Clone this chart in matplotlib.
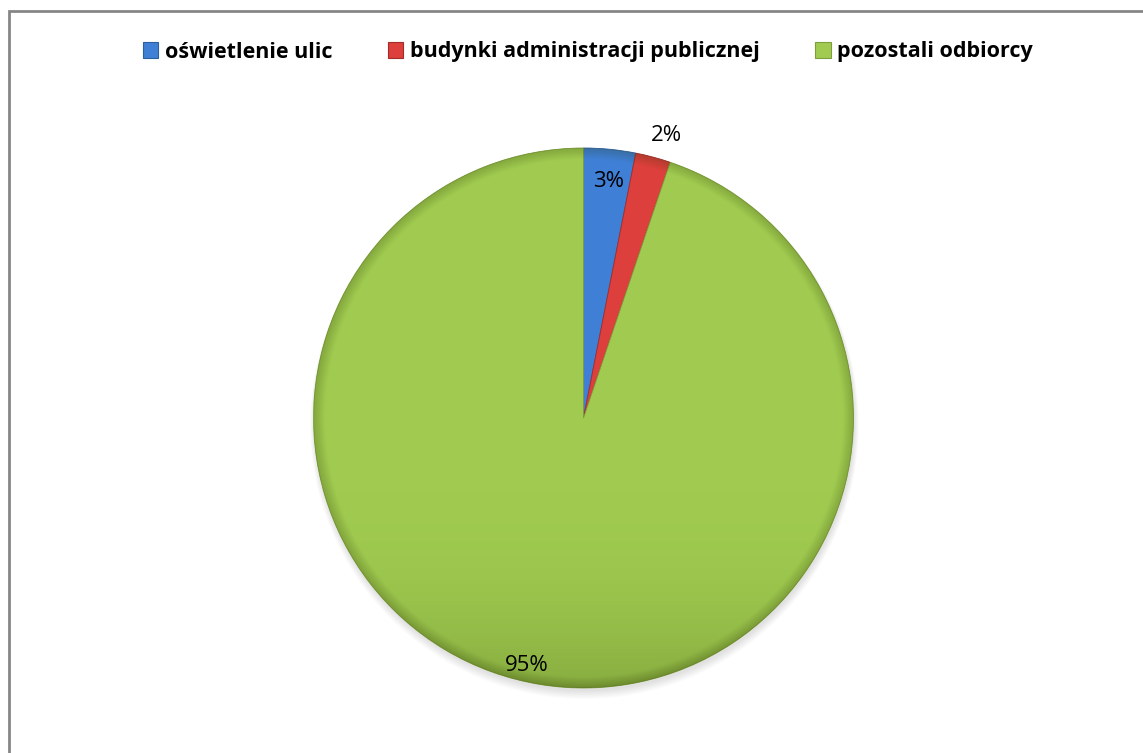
import numpy as np
import matplotlib.pyplot as plt
from matplotlib.patches import Rectangle, Circle

# udział w zużyciu energii
kategorie = ['oświetlenie ulic', 'budynki administracji publicznej', 'pozostali odbiorcy']
udzialy = [3.1, 2.1, 94.8]
etykiety = ['3%', '2%', '95%']
kolory = ['#3F80D6', '#DD3F3C', '#A0CB50']
kolory_krawedzi = ['#2C5F9E', '#A52A28', '#7E9E3A']
odleglosc_etykiet = [0.88, 1.09, 0.94]
przesuniecie_kata = [-0.5, -1.5, -3.5]   # stopnie

plt.rcParams['font.family'] = ['Open Sans', 'DejaVu Sans']

W, H = 1143, 753
fig = plt.figure(figsize=(W / 100, H / 100), dpi=100)
ax = fig.add_axes([0, 0, 1, 1])

cx, cy, r = 583.5, H - 418, 270

# cień pod kołem
for i in range(10):
    ax.add_patch(Circle((cx + 1, cy - 3 - i * 0.4), r + i * 0.5, color='black',
                        alpha=0.01, lw=0, zorder=1))

wedges, _ = ax.pie(udzialy, colors=kolory, startangle=90, counterclock=False,
                   center=(cx, cy), radius=r,
                   wedgeprops=dict(linewidth=0.6, zorder=2))
for w, ec in zip(wedges, kolory_krawedzi):
    w.set_edgecolor(ec)

# lekkie przyciemnienie przy krawędzi i u dołu (efekt wypukłości)
n = 400
xs = np.linspace(cx - r, cx + r, n)
ys = np.linspace(cy - r, cy + r, n)
X, Y = np.meshgrid(xs, ys)
d = np.sqrt((X - cx) ** 2 + (Y - cy) ** 2) / r
dol = np.clip((cy - Y) / r, 0, 1)
alpha = np.clip((d - 0.96) / 0.04, 0, 1) * 0.22 + dol ** 3 * 0.2
overlay = np.zeros((n, n, 4))
overlay[..., 0] = 0.15
overlay[..., 1] = 0.2
overlay[..., 3] = alpha
im = ax.imshow(overlay, extent=(cx - r, cx + r, cy - r, cy + r), origin='lower',
               zorder=3, interpolation='bilinear')
im.set_clip_path(Circle((cx, cy), r, transform=ax.transData))

# etykiety procentowe
for w, tekst, f, dk in zip(wedges, etykiety, odleglosc_etykiet, przesuniecie_kata):
    kat = np.deg2rad((w.theta1 + w.theta2) / 2 + dk)
    x = cx + f * r * np.cos(kat)
    y = cy + f * r * np.sin(kat)
    ax.text(x, y, tekst, ha='center', va='center', fontsize=16, color='black', zorder=5)

# legenda
uchwyty = [Rectangle((0, 0), 1, 1, facecolor=k, edgecolor=e, lw=0.8)
           for k, e in zip(kolory, kolory_krawedzi)]
ax.legend(uchwyty, kategorie, loc='center', bbox_to_anchor=(588 / W, 1 - 52 / H),
          ncol=3, frameon=False, handlelength=0.7, handleheight=0.7, handletextpad=0.3,
          columnspacing=2.6, prop=dict(weight='bold', size=15.5))

# ramka wykresu
ax.add_patch(Rectangle((8.5, -100), 1300, H - 10.5 + 100, fill=False,
                       edgecolor='#868686', lw=2, zorder=6))

ax.set_xlim(0, W)
ax.set_ylim(0, H)
ax.set_aspect('equal')
ax.axis('off')

fig.savefig('out.png', dpi=100, facecolor='white')
